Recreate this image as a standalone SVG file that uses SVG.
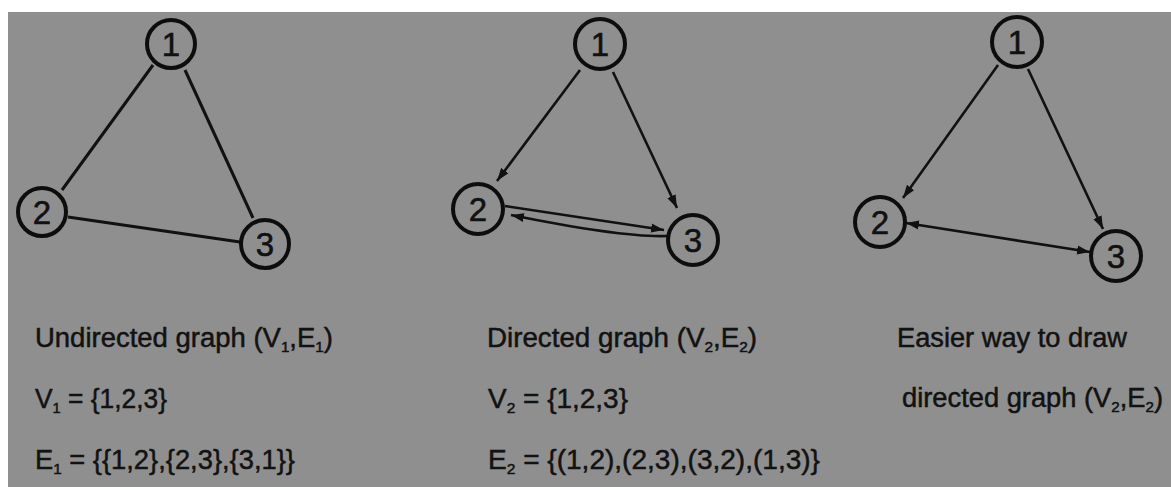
<svg xmlns="http://www.w3.org/2000/svg" width="1171" height="487" viewBox="0 0 1171 487">
<style>
.node circle{fill:#8f8f8f;stroke:#0d0d0d;stroke-width:4}
.node text{font-family:"Liberation Sans",Arial,sans-serif;font-size:33px;fill:#111;stroke:#111;stroke-width:0.6;text-anchor:middle}
.edge{stroke:#111;stroke-width:2.6;fill:none}
.lbl{font-family:"Liberation Sans",Arial,sans-serif;font-size:27px;fill:#121212;stroke:#121212;stroke-width:0.5}
.sub{font-size:15px}
</style>
<defs>
<marker id="ah" markerUnits="userSpaceOnUse" markerWidth="14" markerHeight="10" refX="13" refY="5" orient="auto-start-reverse">
<path d="M0,0.5 L13,5 L0,9.5 z" fill="#111"/>
</marker>
</defs>
<rect x="0" y="0" width="1171" height="487" fill="#ffffff"/>
<rect x="8" y="12" width="1163" height="475" fill="#8f8f8f"/>

<g id="connectors">
<line class="edge" x1="153" y1="65" x2="62" y2="190" style="stroke-width:3"/>
<line class="edge" x1="185" y1="70" x2="253" y2="218" style="stroke-width:3"/>
<line class="edge" x1="68" y1="217" x2="240" y2="242" style="stroke-width:3"/>

<line class="edge" x1="580" y1="70" x2="497" y2="181" marker-end="url(#ah)"/>
<line class="edge" x1="613" y1="72" x2="677" y2="208" marker-end="url(#ah)"/>
<line class="edge" x1="505" y1="206" x2="664" y2="230" marker-end="url(#ah)"/>
<path class="edge" d="M668,236 Q625,238 511,215" marker-end="url(#ah)"/>

<line class="edge" x1="998" y1="65" x2="903" y2="198" marker-end="url(#ah)"/>
<line class="edge" x1="1028" y1="69" x2="1103" y2="229" marker-end="url(#ah)"/>
<line class="edge" x1="906" y1="223" x2="1090" y2="252" marker-start="url(#ah)" marker-end="url(#ah)"/>
</g>

<g id="g1-n1" class="node"><circle cx="171" cy="44" r="24"/><text x="171" y="56">1</text></g>
<g id="g1-n2" class="node"><circle cx="42" cy="212" r="24"/><text x="42" y="224">2</text></g>
<g id="g1-n3" class="node"><circle cx="265" cy="244" r="24"/><text x="265" y="256">3</text></g>

<g id="g2-n1" class="node"><circle cx="600" cy="44" r="25"/><text x="600" y="56">1</text></g>
<g id="g2-n2" class="node"><circle cx="478" cy="209" r="25"/><text x="478" y="221">2</text></g>
<g id="g2-n3" class="node"><circle cx="693" cy="240" r="25"/><text x="693" y="252">3</text></g>

<g id="g3-n1" class="node"><circle cx="1017" cy="42" r="25"/><text x="1017" y="54">1</text></g>
<g id="g3-n2" class="node"><circle cx="880" cy="222" r="25"/><text x="880" y="234">2</text></g>
<g id="g3-n3" class="node"><circle cx="1116" cy="256" r="25"/><text x="1116" y="268">3</text></g>

<g id="labels">
<text class="lbl" x="35" y="347" textLength="298" lengthAdjust="spacingAndGlyphs">Undirected graph (V<tspan class="sub" dy="5">1</tspan><tspan dy="-5">,E</tspan><tspan class="sub" dy="5">1</tspan><tspan dy="-5">)</tspan></text>
<text class="lbl" x="35" y="408" textLength="132" lengthAdjust="spacingAndGlyphs">V<tspan class="sub" dy="5">1</tspan><tspan dy="-5"> = {1,2,3}</tspan></text>
<text class="lbl" x="35" y="469" textLength="260" lengthAdjust="spacingAndGlyphs">E<tspan class="sub" dy="5">1</tspan><tspan dy="-5"> = {{1,2},{2,3},{3,1}}</tspan></text>

<text class="lbl" x="487" y="347" textLength="270" lengthAdjust="spacingAndGlyphs">Directed graph (V<tspan class="sub" dy="5">2</tspan><tspan dy="-5">,E</tspan><tspan class="sub" dy="5">2</tspan><tspan dy="-5">)</tspan></text>
<text class="lbl" x="488" y="408" textLength="140" lengthAdjust="spacingAndGlyphs">V<tspan class="sub" dy="5">2</tspan><tspan dy="-5"> = {1,2,3}</tspan></text>
<text class="lbl" x="488" y="469" textLength="332" lengthAdjust="spacingAndGlyphs">E<tspan class="sub" dy="5">2</tspan><tspan dy="-5"> = {(1,2),(2,3),(3,2),(1,3)}</tspan></text>

<text class="lbl" x="897" y="347" textLength="230" lengthAdjust="spacingAndGlyphs">Easier way to draw</text>
<text class="lbl" x="902" y="407" textLength="261" lengthAdjust="spacingAndGlyphs">directed graph (V<tspan class="sub" dy="5">2</tspan><tspan dy="-5">,E</tspan><tspan class="sub" dy="5">2</tspan><tspan dy="-5">)</tspan></text>
</g>
</svg>
